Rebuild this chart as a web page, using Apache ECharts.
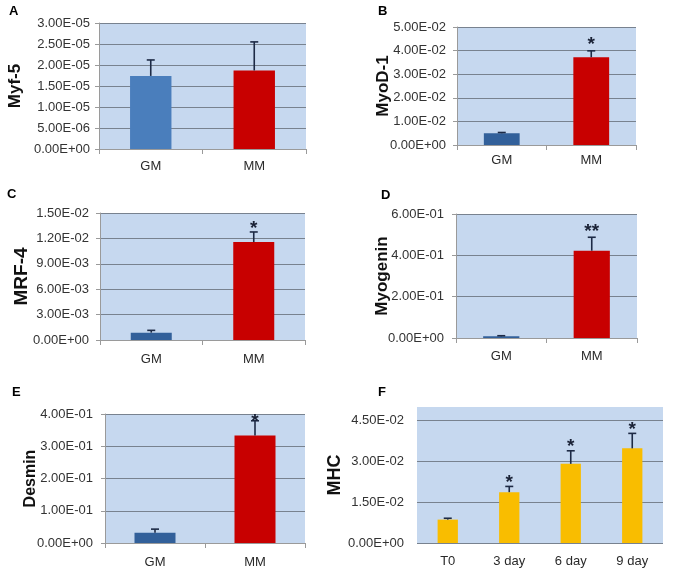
<!DOCTYPE html>
<html><head><meta charset="utf-8">
<script src="https://cdn.jsdelivr.net/npm/echarts@6/dist/echarts.min.js"></script>
<style>html,body{margin:0;padding:0;background:#fff}#c{width:677px;height:569px}</style>
</head><body><div id="c"></div>
<script>
// ---- data ----
const catsGM = ['GM', 'MM'];
const catsF = ['T0', '3 day', '6 day', '9 day'];

const myf5 = [1.74e-5, 1.87e-5];
const myf5Err = [0.38e-5, 0.68e-5];
const myf5Stars = ['', ''];

const myod1 = [0.0050, 0.0372];
const myod1Err = [0.0003, 0.0027];
const myod1Stars = ['', '*'];

const mrf4 = [0.00087, 0.01157];
const mrf4Err = [0.00027, 0.00119];
const mrf4Stars = ['', '*'];

const myogenin = [0.008, 0.4225];
const myogeninErr = [0.003, 0.065];
const myogeninStars = ['', '**'];

const desmin = [0.0315, 0.333];
const desminErr = [0.0115, 0.046];
const desminStars = ['', '*'];

const mhc = [0.0086, 0.0187, 0.0291, 0.0348];
const mhcErr = [0.0005, 0.0021, 0.0048, 0.0055];
const mhcStars = ['', '*', '*', '*'];

// y axis [min, max, interval]
const yAxisA = [0, 3e-5, 5e-6];
const yAxisB = [0, 0.05, 0.01];
const yAxisC = [0, 0.015, 0.003];
const yAxisD = [0, 0.6, 0.2];
const yAxisE = [0, 0.4, 0.1];
const yAxisF = [0, 0.05, 0.015];

// ---- styles ----
const FONT = "'Liberation Sans', Arial, sans-serif";
const BG = '#c6d8ef';
const GRIDC = '#78828f';
const AXC = '#9a9a9a';
const ERRC = '#1d2a45';
const RED = '#c80000';
const BLUE_A = '#4a7ebc';
const BLUE = '#32609a';
const YELLOW = '#f9bd00';

function fmtE(v) {
  let s = Number(v).toExponential(2);
  let m = s.match(/^(-?[\d.]+)e([+-])(\d+)$/);
  if (!m) return s;
  let exp = m[3].length < 2 ? '0' + m[3] : m[3];
  return m[1] + 'E' + m[2] + exp;
}

const panels = [
  {cats: catsGM, vals: myf5, errs: myf5Err, stars: myf5Stars, ax: yAxisA, name: 'Myf-5', nameSize: 17,
   grid: {left: 99, top: 23, width: 207, height: 126}, colors: [BLUE_A, RED], labelMargin: 9, catMargin: 11, nameGap: 75, letter: 'A', lx: 9, ly: 12, starGap: 10, bw: '40%', axes: true},
  {cats: catsGM, vals: myod1, errs: myod1Err, stars: myod1Stars, ax: yAxisB, name: 'MyoD-1', nameSize: 17,
   grid: {left: 457, top: 27, width: 179, height: 118}, colors: [BLUE, RED], labelMargin: 11, catMargin: 9, nameGap: 65, letter: 'B', lx: 378, ly: 12, starGap: 12, bw: '40%', axes: true},
  {cats: catsGM, vals: mrf4, errs: mrf4Err, stars: mrf4Stars, ax: yAxisC, name: 'MRF-4', nameSize: 19,
   grid: {left: 100, top: 213, width: 205, height: 127}, colors: [BLUE, RED], labelMargin: 11, catMargin: 13, nameGap: 69, letter: 'C', lx: 7, ly: 195, starGap: 9, bw: '40%', axes: true},
  {cats: catsGM, vals: myogenin, errs: myogeninErr, stars: myogeninStars, ax: yAxisD, name: 'Myogenin', nameSize: 17,
   grid: {left: 456, top: 214, width: 181, height: 124}, colors: [BLUE, RED], labelMargin: 12, catMargin: 12, nameGap: 65, letter: 'D', lx: 381, ly: 196, starGap: 11, bw: '40%', axes: true},
  {cats: catsGM, vals: desmin, errs: desminErr, stars: desminStars, ax: yAxisE, name: 'Desmin', nameSize: 16,
   grid: {left: 105, top: 414, width: 200, height: 129}, colors: [BLUE, RED], labelMargin: 12, catMargin: 13, nameGap: 66, letter: 'E', lx: 12, ly: 393, starGap: 5, bw: '41%', axes: true},
  {cats: catsF, vals: mhc, errs: mhcErr, stars: mhcStars, ax: yAxisF, name: 'MHC', nameSize: 18,
   grid: {left: 417, top: 407, width: 246, height: 136}, colors: [YELLOW, YELLOW, YELLOW, YELLOW], labelMargin: 13, catMargin: 12, nameGap: 73, letter: 'F', lx: 378, ly: 393, starGap: 10, bw: '33%', axes: false}
];

function makeErrRender(stars, gap) {
  return function (params, api) {
    const i = api.value(0), v = api.value(1), e = api.value(2);
    const p0 = api.coord([i, v]);
    const p1 = api.coord([i, v + e]);
    const st = {stroke: ERRC, lineWidth: 1.6};
    const cap = 4;
    const children = [
      {type: 'line', shape: {x1: p0[0], y1: p0[1], x2: p1[0], y2: p1[1]}, style: st},
      {type: 'line', shape: {x1: p1[0] - cap, y1: p1[1], x2: p1[0] + cap, y2: p1[1]}, style: st}
    ];
    const s = stars[params.dataIndex];
    if (s) {
      children.push({type: 'text', x: p1[0], y: p1[1] - gap + 6,
        style: {text: s, fill: '#1a2236', font: 'bold 19px ' + FONT, textAlign: 'center', textVerticalAlign: 'middle'}});
    }
    return {type: 'group', children: children};
  };
}

const grids = [], xAxes = [], yAxes = [], series = [], graphics = [];
panels.forEach((p, k) => {
  grids.push(Object.assign({show: true, backgroundColor: BG, borderWidth: 0}, p.grid));
  xAxes.push({
    type: 'category', gridIndex: k, data: p.cats,
    axisLine: {show: p.axes, lineStyle: {color: AXC, width: 1}},
    axisTick: {show: p.axes, alignWithLabel: false, length: 5, lineStyle: {color: AXC}},
    axisLabel: {color: '#2a2a2a', fontSize: 13, fontFamily: FONT, margin: p.catMargin},
    splitLine: {show: false}
  });
  yAxes.push({
    type: 'value', gridIndex: k, min: p.ax[0], max: p.ax[1], interval: p.ax[2],
    name: p.name, nameLocation: 'middle', nameGap: p.nameGap, nameMoveOverlap: false,
    nameTextStyle: {fontSize: p.nameSize, fontWeight: 'bold', fontFamily: FONT, color: '#111'},
    axisLine: {show: p.axes, lineStyle: {color: AXC, width: 1}},
    axisTick: {show: p.axes, length: 4, lineStyle: {color: AXC}},
    axisLabel: {color: '#333', fontSize: 13, fontFamily: FONT, margin: p.labelMargin, formatter: fmtE, showMaxLabel: p.axes},
    splitLine: {show: true, showMaxLine: p.axes, lineStyle: {color: GRIDC, width: 1.2}}
  });
  series.push({
    type: 'bar', xAxisIndex: k, yAxisIndex: k, barWidth: p.bw,
    data: p.vals.map((v, i) => ({value: v, itemStyle: {color: p.colors[i]}})),
    silent: true, animation: false
  });
  series.push({
    type: 'custom', xAxisIndex: k, yAxisIndex: k,
    data: p.vals.map((v, i) => [i, v, p.errs[i]]),
    encode: {x: 0, y: 1},
    renderItem: makeErrRender(p.stars, p.starGap),
    silent: true, animation: false, z: 5
  });
  graphics.push({type: 'text', left: p.lx, top: p.ly - 7,
    style: {text: p.letter, font: 'bold 13px ' + FONT, fill: '#000'}});
});

const chart = echarts.init(document.getElementById('c'), null, {renderer: 'canvas'});
chart.setOption({
  animation: false,
  backgroundColor: '#fff',
  grid: grids, xAxis: xAxes, yAxis: yAxes, series: series, graphic: graphics
});
</script>
</body></html>
